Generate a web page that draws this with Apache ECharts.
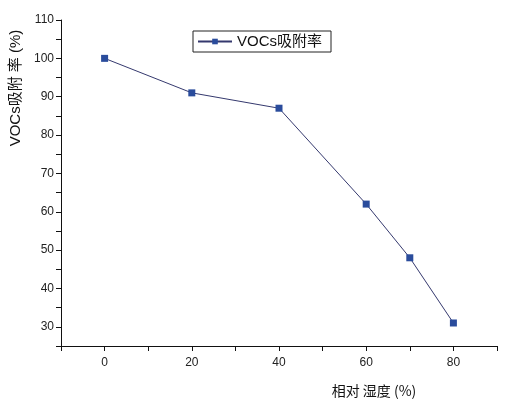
<!DOCTYPE html>
<html>
<head>
<meta charset="utf-8">
<script src="https://cdn.jsdelivr.net/npm/echarts@6/dist/echarts.min.js"></script>
<style>
  html, body { margin: 0; padding: 0; background: #fff; }
  #main { width: 509px; height: 405px; }
</style>
</head>
<body>
<div id="main"></div>
<script>
var humidity = [0, 20, 40, 60, 70, 80];
var adsorption = [100, 91, 87, 62, 48, 31];
var xRange = [-10, 90];
var yRange = [25, 110];
var xLabelStep = 20;
var yLabelStep = 10;
var seriesName = 'VOCs吸附率';

var myChart = echarts.init(document.getElementById('main'));

var axisFont = { color: '#222', fontSize: 12, fontFamily: 'Liberation Sans, Arial, sans-serif' };

var option = {
    backgroundColor: '#fff',
    animation: false,
    legend: {
        data: [seriesName],
        left: 193,
        top: 31,
        padding: [3, 9, 3, 4],
        borderColor: '#222',
        borderWidth: 1,
        itemWidth: 34,
        itemHeight: 7,
        itemGap: 4,
        textStyle: { color: '#111', fontSize: 15, fontFamily: 'Liberation Sans, Noto Sans CJK SC, sans-serif' }
    },
    grid: { left: 59, right: 12, top: 20, bottom: 59 },
    xAxis: {
        type: 'value',
        min: xRange[0],
        max: xRange[1],
        interval: 10,
        name: '相对 湿度 (%)',
        nameLocation: 'middle',
        nameGap: 38,
        nameTextStyle: { color: '#111', fontSize: 14, padding: [0, 0, 0, 190], fontFamily: 'Noto Sans CJK SC, sans-serif' },
        axisLine: { show: true, onZero: false, lineStyle: { color: '#111', width: 1 } },
        axisTick: { show: true, length: 5, lineStyle: { color: '#111' } },
        axisLabel: Object.assign({
            margin: 11,
            formatter: function (v) { return v % xLabelStep === 0 ? String(v) : ''; }
        }, axisFont),
        splitLine: { show: false }
    },
    yAxis: {
        type: 'value',
        min: yRange[0],
        max: yRange[1],
        interval: 5,
        name: 'VOCs吸附 率 (%)',
        nameLocation: 'middle',
        nameGap: 38,
        nameTextStyle: { color: '#111', fontSize: 15, padding: [0, 0, 0, 190], fontFamily: 'Liberation Sans, Noto Sans CJK SC, sans-serif' },
        axisLine: { show: true, onZero: false, lineStyle: { color: '#111', width: 1 } },
        axisTick: { show: true, length: 5, lineStyle: { color: '#111' } },
        axisLabel: Object.assign({
            margin: 7,
            formatter: function (v) { return v % yLabelStep === 0 ? String(v) : ''; }
        }, axisFont),
        splitLine: { show: false }
    },
    series: [{
        name: seriesName,
        type: 'line',
        data: humidity.map(function (h, i) { return [h, adsorption[i]]; }),
        symbol: 'rect',
        symbolSize: 7,
        lineStyle: { color: '#35396e', width: 1 },
        itemStyle: { color: '#2a4c9c' }
    }]
};

myChart.setOption(option);
</script>
</body>
</html>
